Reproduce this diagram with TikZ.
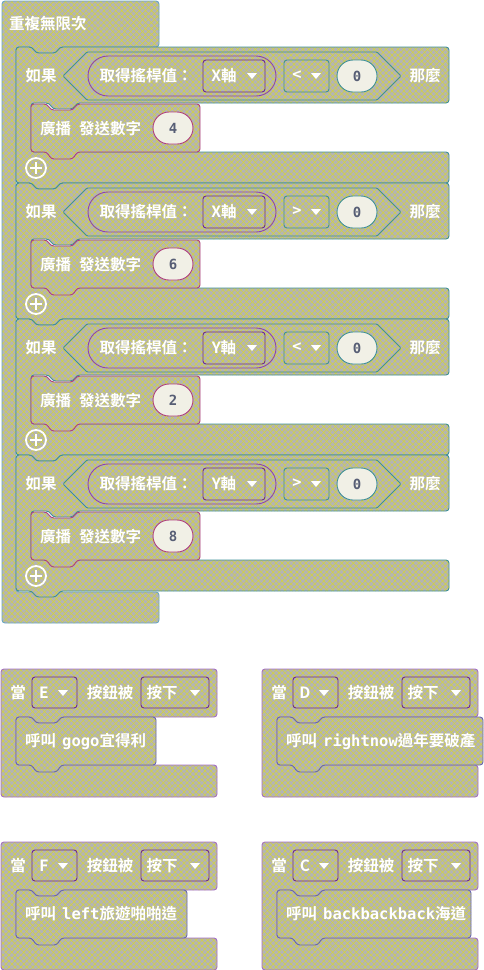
\documentclass[tikz,border=0pt]{standalone}
\usepackage{fontspec}
\newfontfamily\cjk{Noto Sans CJK TC}[BoldFont={Noto Sans CJK TC Bold}]
\newfontfamily\mono{DejaVu Sans Mono}
\usetikzlibrary{patterns.meta}
\definecolor{blkgray}{HTML}{B4B4B4}
\definecolor{hatchy}{HTML}{D4D43A}
\definecolor{loopline}{HTML}{6AA6C4}
\definecolor{ifline}{HTML}{3F9098}
\definecolor{repline}{HTML}{8E44AD}
\definecolor{ddline}{HTML}{6E2A8E}
\definecolor{bcline}{HTML}{B0407E}
\definecolor{evline}{HTML}{A56FC4}
\definecolor{callline}{HTML}{6868AE}
\definecolor{pillfill}{HTML}{F1F0E6}
\definecolor{numtext}{HTML}{575E75}
\tikzset{
  hatchblk/.style={preaction={fill=blkgray},pattern={Hatch[angle=45,distance=4.2pt,line width=0.5pt]},
    pattern color=hatchy,line width=0.9pt,rounded corners=3pt},
  lbl/.style={text=white,font=\cjk\bfseries\fontsize{15.5}{18}\selectfont,inner sep=0pt},
  numlbl/.style={text=numtext,font=\mono\bfseries\fontsize{14}{16}\selectfont,inner sep=0pt},
  pill/.style={fill=pillfill,line width=0.9pt,rounded corners=16pt},
}
\newcommand\ddarrow[1]{\fill[white] (#1) ++(-5,-3) -- ++(10,0) -- ++(-5,6) -- cycle;}
\begin{document}
\begin{tikzpicture}[x=1pt,y=-1pt]
  \useasboundingbox (0,0) rectangle (484,970);
  % 重複無限次
  \draw[hatchblk,draw=loopline] (2,1)--(159,1)--(159,47)--(60,47)--(56,53)--(36,53)--(32,47)--(16,47)
    --(16,592)--(159,592)--(159,623)--(2,623)--cycle;
  \node[lbl,anchor=west] (loop) at (9,24) {重複無限次};
  % 如果 ... 那麼
  \foreach \i/\ax/\op/\n in {0/X/</4,1/X/>/6,2/Y/</2,3/Y/>/8}{
    \pgfmathsetmacro\y{47+136*\i}
    \draw[hatchblk,draw=ifline] (16,\y)--(32,\y)--(36,\y+6)--(56,\y+6)--(60,\y)--(449,\y)--(449,\y+56)
      --(77,\y+56)--(73,\y+62)--(53,\y+62)--(49,\y+56)--(31,\y+56)--(31,\y+105)--(449,\y+105)
      --(449,\y+136)--(60,\y+136)--(56,\y+142)--(36,\y+142)--(32,\y+136)--(16,\y+136)--cycle;
    \node[lbl] (if\i) at (41,\y+29) {如果};
    \node[lbl] (then\i) at (425,\y+29) {那麼};
    \draw[hatchblk,draw=ifline,rounded corners=1pt] (63,\y+29)--(87,\y+5)--(377,\y+5)--(401,\y+29)--(377,\y+53)--(87,\y+53)--cycle;
    \draw[hatchblk,draw=repline,rounded corners=20pt] (88,\y+9) rectangle (276,\y+49);
    \node[lbl] (rep\i) at (146,\y+29) {取得搖桿值：};
    \draw[hatchblk,draw=ddline] (203,\y+13) rectangle (265,\y+45);
    \node[lbl] (axis\i) at (224,\y+29) {\ax 軸};
    \ddarrow{252,\y+29}
    \draw[hatchblk,draw=ifline] (284,\y+13) rectangle (329,\y+45);
    \node[lbl] (op\i) at (297,\y+29) {\op};
    \ddarrow{316,\y+29}
    \draw[pill,draw=ifline] (337,\y+13) rectangle (377,\y+45);
    \node[numlbl] (zero\i) at (357,\y+29) {0};
    % 廣播
    \draw[hatchblk,draw=bcline] (31,\y+57)--(47,\y+57)--(51,\y+63)--(73,\y+63)--(77,\y+57)--(200,\y+57)
      --(200,\y+105)--(77,\y+105)--(73,\y+112)--(51,\y+112)--(47,\y+105)--(31,\y+105)--cycle;
    \node[lbl,anchor=west] (bc\i) at (40,\y+82) {廣播\hspace{8pt}發送數字};
    \draw[pill,draw=bcline] (153,\y+65) rectangle (193,\y+97);
    \node[numlbl] (num\i) at (173,\y+81) {\n};
    \draw[white,line width=1.8pt] (36,\y+121) circle (10);
    \draw[white,line width=2.6pt] (30,\y+121)--(42,\y+121) (36,\y+115)--(36,\y+127);
  }
  % 當 ... 按鈕被 按下
  \foreach \xl/\yt/\k/\w/\txt in {1/669/E/140/{呼叫\hspace{6pt}{\mono gogo}宜得利},
      262/669/D/206/{呼叫\hspace{6pt}{\mono rightnow}過年要破產},
      1/842/F/171/{呼叫\hspace{6pt}{\mono left}旅遊啪啪造},
      262/842/C/194/{呼叫\hspace{6pt}{\mono backbackback}海道}}{
    \draw[hatchblk,draw=evline] (\xl,\yt)--(\xl+216,\yt)--(\xl+216,\yt+48)--(\xl+60,\yt+48)--(\xl+56,\yt+54)
      --(\xl+35,\yt+54)--(\xl+31,\yt+48)--(\xl+15,\yt+48)--(\xl+15,\yt+96)--(\xl+216,\yt+96)
      --(\xl+216,\yt+128)--(\xl,\yt+128)--cycle;
    \node[lbl] (when\k) at (\xl+17,\yt+24) {當};
    \draw[hatchblk,draw=ddline] (\xl+31,\yt+8) rectangle (\xl+76,\yt+39);
    \node[lbl] (key\k) at (\xl+43,\yt+24) {\k};
    \ddarrow{\xl+62,\yt+24}
    \node[lbl] (btn\k) at (\xl+109,\yt+24) {按鈕被};
    \draw[hatchblk,draw=ddline] (\xl+140,\yt+8) rectangle (\xl+208,\yt+39);
    \node[lbl] (press\k) at (\xl+161,\yt+24) {按下};
    \ddarrow{\xl+194,\yt+24}
    % 呼叫
    \draw[hatchblk,draw=callline] (\xl+15,\yt+48)--(\xl+31,\yt+48)--(\xl+35,\yt+54)--(\xl+56,\yt+54)--(\xl+60,\yt+48)
      --(\xl+15+\w,\yt+48)--(\xl+15+\w,\yt+96)--(\xl+60,\yt+96)--(\xl+56,\yt+103)--(\xl+35,\yt+103)
      --(\xl+31,\yt+96)--(\xl+15,\yt+96)--cycle;
    \node[lbl,anchor=west] (call\k) at (\xl+24,\yt+72) {\txt};
  }
\end{tikzpicture}
\end{document}
